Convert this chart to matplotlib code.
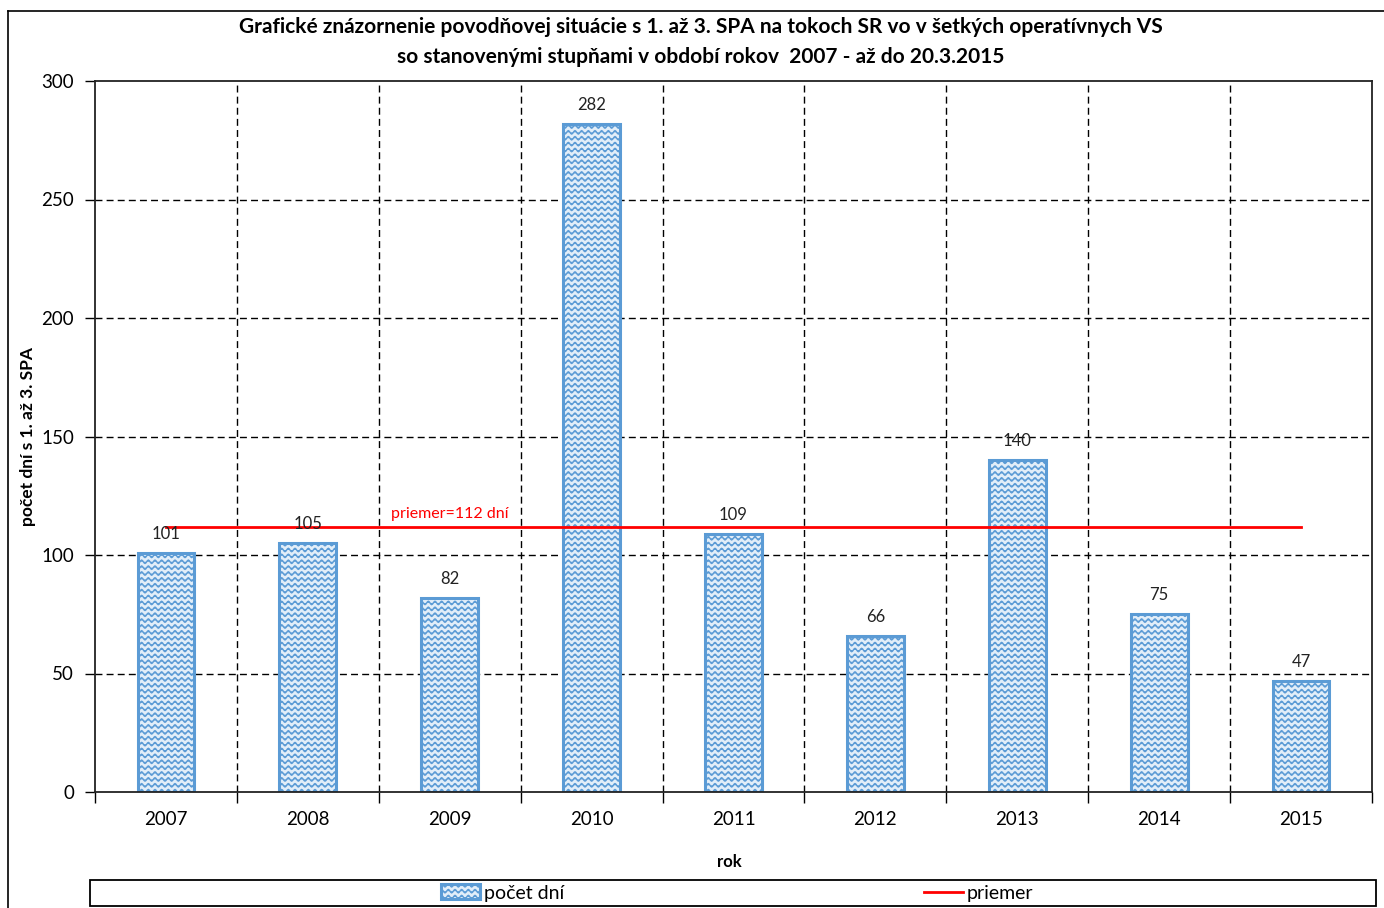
import warnings
warnings.filterwarnings("ignore")
import numpy as np
import matplotlib
matplotlib.use("Agg")
import matplotlib.pyplot as plt
import matplotlib.hatch as mhatch
from matplotlib.path import Path
from matplotlib.patches import Rectangle
from matplotlib.lines import Line2D

# ---- data ----
years = ["2007", "2008", "2009", "2010", "2011", "2012", "2013", "2014", "2015"]
days = [101, 105, 82, 282, 109, 66, 140, 75, 47]
average = 112
avg_label = "priemer=112 dní"
title = ("Grafické znázornenie povodňovej situácie s 1. až 3. SPA na tokoch SR vo v šetkých operatívnych VS\n"
         "so stanovenými stupňami v období rokov  2007 - až do 20.3.2015")
ylabel = "počet dní s 1. až 3. SPA"
xlabel = "rok"
yticks = [0, 50, 100, 150, 200, 250, 300]


# ---- custom wave hatch ----
class WaveHatch(mhatch.HatchPatternBase):
    def __init__(self, hatch, density):
        self.rows = 17 * hatch.count('~')
        self.periods = 15
        self.pts = self.periods * 8 + 1
        self.num_vertices = self.rows * self.pts

    def set_vertices_and_codes(self, vertices, codes):
        x = np.linspace(0, 1, self.pts)
        amp = 0.017
        for i in range(self.rows):
            y0 = (i + 0.5) / self.rows
            y = y0 + amp * np.sin(2 * np.pi * self.periods * x)
            s = slice(i * self.pts, (i + 1) * self.pts)
            vertices[s, 0] = x
            vertices[s, 1] = y
            codes[s] = Path.LINETO
            codes[i * self.pts] = Path.MOVETO


mhatch._hatch_types.append(WaveHatch)
plt.rcParams['hatch.linewidth'] = 1.0
plt.rcParams['font.family'] = ['Lato', 'DejaVu Sans']

W, H = 1384, 908
fig = plt.figure(figsize=(W / 100, H / 100), dpi=100)

# figure border
fig.add_artist(Line2D([8 / W, 8 / W], [0, 1 - 11 / H], color='black', lw=1.2))
fig.add_artist(Line2D([8 / W, 1.0], [1 - 11 / H, 1 - 11 / H], color='black', lw=1.2))

ax = fig.add_axes([95 / W, 1 - 792 / H, (1372 - 95) / W, (792 - 81) / H])

x = np.arange(len(years))
edge = '#5B9BD5'
bars = ax.bar(x, days, width=0.4, facecolor='#E2EEF9', edgecolor=edge,
              linewidth=2.2, hatch='~', zorder=2, label='počet dní')

ax.plot(x, [average] * len(x), color='#FF0000', lw=2, zorder=3, label='priemer')
ax.text(2.0, average + 2.5, avg_label, color='#FF0000', fontsize=11.5,
        ha='center', va='bottom', zorder=4)

for xi, v in zip(x, days):
    ax.text(xi, v + 8, str(v), ha='center', va='center', fontsize=12,
            color='#222222', zorder=4)

ax.set_xlim(-0.5, len(years) - 0.5)
ax.set_ylim(0, 300)
ax.set_yticks(yticks)
ax.set_xticks(x)
ax.set_xticklabels(years)
ax.set_xticks(np.arange(-0.5, len(years)), minor=True)
ax.tick_params(axis='x', which='major', length=0, pad=14, labelsize=13.5)
ax.tick_params(axis='x', which='minor', length=8, direction='out', width=1)
ax.tick_params(axis='y', length=7, width=1, direction='out', pad=8, labelsize=13.5)

for v in yticks[1:-1]:
    ax.axhline(v, color='black', lw=1, ls=(0, (5, 3)), zorder=1)
for b in np.arange(0.5, len(years) - 0.5):
    ax.axvline(b, color='black', lw=1, ls=(0, (5, 3)), zorder=1)

for sp in ax.spines.values():
    sp.set_linewidth(1.3)
    sp.set_color('#222222')

fig.text(701 / W, 1 - 42 / H, title, ha='center', va='center', fontsize=15,
         fontweight='bold', linespacing=1.6)
ax.set_ylabel(ylabel, fontsize=12.5, fontweight='bold')
ax.yaxis.set_label_coords(-0.046, 0.5)
fig.text(729 / W, 1 - 862 / H, xlabel, ha='center', va='center', fontsize=12,
         fontweight='bold')

# legend box
fig.add_artist(Rectangle((90 / W, 1 - 906 / H), (1376 - 90) / W, 26 / H,
                         transform=fig.transFigure, fill=False, ec='black', lw=1.3))
handles, labels = ax.get_legend_handles_labels()
order = [labels.index('počet dní'), labels.index('priemer')]
fig.legend([handles[i] for i in order], [labels[i] for i in order],
           loc='center', bbox_to_anchor=(737 / W, 1 - 893 / H), ncol=2,
           frameon=False, fontsize=14, handlelength=2.0, handleheight=0.8,
           handletextpad=0.2, columnspacing=18.5, borderpad=0)

fig.savefig('out.png', dpi=100)
